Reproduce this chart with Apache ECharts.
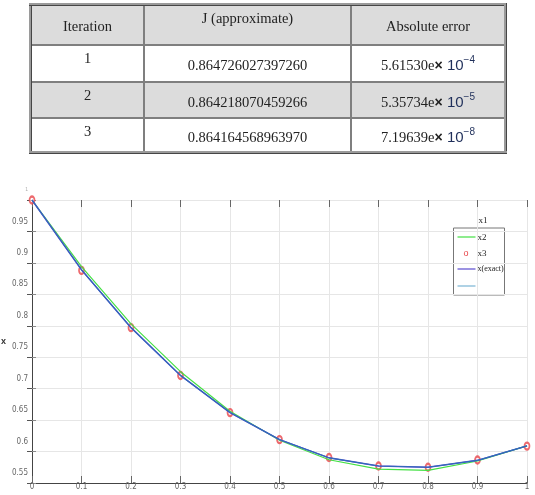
<!DOCTYPE html>
<html>
<head>
<meta charset="utf-8">
<script src="https://cdn.jsdelivr.net/npm/echarts@6/dist/echarts.min.js"></script>
<style>
  body { margin: 0; background: #fff; }
  #wrap { position: relative; width: 535px; height: 495px; overflow: hidden; }
  #chart { position: absolute; left: 0; top: 0; width: 535px; height: 495px; }
  #tbl {
    position: absolute; left: 29px; top: 3px; width: 478px; height: 148px;
    border-collapse: collapse; border: 3px ridge #9a9a9a;
    font-family: 'Liberation Serif', 'DejaVu Serif', serif; font-size: 14.5px; color: #222;
  }
  #tbl td { border: 2px solid #7f7f7f; text-align: center; padding: 0; }
  #tbl tr.grey td { background: #dcdcdc; }
  #tbl td.top { vertical-align: top; padding-top: 4px; }
  #tbl td.mid { vertical-align: middle; padding-top: 3px; }
  .pw { font-family: 'Liberation Sans', Arial, sans-serif; color: #1f2f5a; font-size: 15px; }
  .pw b { color: #222; font-size: 14px; }
  .pw sup { font-size: 10px; position: relative; top: -1px; }
</style>
</head>
<body>
<div id="wrap">
  <div id="chart"></div>
  <table id="tbl"></table>
</div>
<script>
// table
const headers = ['Iteration', 'J (approximate)', 'Absolute error']
const iterations = ['1', '2', '3']
const jApprox = ['0.864726027397260', '0.864218070459266', '0.864164568963970']
const errMantissa = ['5.61530', '5.35734', '7.19639']
const errExponent = ['−4', '−5', '−8']

// chart
const tValues = [0, 0.1, 0.2, 0.3, 0.4, 0.5, 0.6, 0.7, 0.8, 0.9, 1]
const x1 = [1.0, 0.894, 0.803, 0.727, 0.664, 0.618, 0.587, 0.572, 0.570, 0.585, 0.609]
const x2 = [1.0, 0.888, 0.797, 0.721, 0.662, 0.619, 0.5905, 0.577, 0.575, 0.5865, 0.6087]
const x3 = [1.0, 0.889, 0.797, 0.721, 0.662, 0.619, 0.590, 0.577, 0.575, 0.586, 0.609]
const xExact = [1.0, 0.889, 0.797, 0.721, 0.662, 0.619, 0.590, 0.577, 0.575, 0.586, 0.609]
const legendNames = ['x1', 'x2', 'x3', 'x(exact)']

const tbl = document.getElementById('tbl')
let html = '<tr class="grey" style="height:40px">'
html += '<td class="mid" style="width:111px">' + headers[0] + '</td>'
html += '<td class="top" style="width:205px">' + headers[1] + '</td>'
html += '<td class="mid">' + headers[2] + '</td></tr>'
const rowH = [37, 36, 35]
iterations.forEach((it, i) => {
  html += '<tr' + (i == 1 ? ' class="grey"' : '') + ' style="height:' + rowH[i] + 'px">'
  html += '<td class="top">' + it + '</td>'
  html += '<td class="mid" style="padding-top:5px">' + jApprox[i] + '</td>'
  html += '<td class="mid">' + errMantissa[i] + 'e<span class="pw"><b>×</b> 10<sup>' + errExponent[i] + '</sup></span></td></tr>'
})
tbl.innerHTML = html

const pairs = (arr) => tValues.map((t, i) => [t, arr[i]])
const lblFont = "'DejaVu Sans Condensed', 'Liberation Sans Narrow', sans-serif"

const chart = echarts.init(document.getElementById('chart'))
chart.setOption({
  animation: false,
  grid: { left: 32, right: 8, top: 200, bottom: 12, outerBoundsMode: 'none', containLabel: false },
  xAxis: [
    {
      type: 'value', min: 0, max: 1, interval: 0.1, position: 'bottom',
      name: 't', nameLocation: 'middle', nameGap: 6,
      nameTextStyle: { fontSize: 9, color: '#333', fontFamily: lblFont },
      axisLine: { show: true, lineStyle: { color: '#444', width: 1 } },
      axisTick: { show: true, inside: true, length: 7, lineStyle: { color: '#666' } },
      axisLabel: { margin: 0, fontSize: 8, color: '#666', fontFamily: lblFont },
      splitLine: { show: true, lineStyle: { color: '#e6e6e6' } }
    },
    {
      type: 'value', min: 0, max: 1, interval: 0.1, position: 'top',
      axisLine: { show: false },
      axisTick: { show: true, inside: true, length: 7, lineStyle: { color: '#666' } },
      axisLabel: { show: false },
      splitLine: { show: false }
    }
  ],
  yAxis: [
    {
      type: 'value', min: 0.55, max: 1, interval: 0.05, position: 'left',
      name: 'x', nameLocation: 'middle', nameGap: 24, nameRotate: 0,
      nameTextStyle: { fontSize: 9, fontWeight: 'bold', color: '#333' },
      axisLine: { show: true, lineStyle: { color: '#555', width: 1 } },
      axisTick: { show: true, inside: true, length: 4, lineStyle: { color: '#888' } },
      axisLabel: {
        margin: 4, fontSize: 8, color: '#666', fontFamily: lblFont,
        padding: [0, 0, 20, 0],
        formatter: (v) => (v >= 0.999 ? '{s|1}' : String(+v.toFixed(2))),
        rich: { s: { fontSize: 5, color: '#aaa' } }
      },
      splitLine: { show: true, lineStyle: { color: '#e6e6e6' } }
    },
    {
      type: 'value', min: 0.55, max: 1, interval: 0.05, position: 'right',
      axisLine: { show: true, lineStyle: { color: '#444', width: 1 } },
      axisTick: { show: true, inside: true, length: 5, lineStyle: { color: '#555' } },
      axisLabel: { show: false },
      splitLine: { show: false }
    }
  ],
  series: [
    {
      name: legendNames[0], type: 'line', data: pairs(x1), symbol: 'none',
      lineStyle: { color: '#44e044', width: 1.2 }
    },
    {
      name: legendNames[3], type: 'line', data: pairs(xExact), symbol: 'none',
      lineStyle: { color: '#5a4ccf', width: 1.5 }
    },
    {
      name: legendNames[2], type: 'line', data: pairs(x3), symbol: 'none',
      lineStyle: { color: '#2f6cb8', width: 1.1 }
    },
    {
      name: legendNames[1], type: 'scatter', data: pairs(x2),
      symbol: 'emptyCircle', symbolSize: [5, 7],
      itemStyle: { color: '#e8454a', borderColor: '#e8454a', borderWidth: 1 }
    }
  ],
  graphic: [
    {
      type: 'group', left: 453, top: 216,
      children: [
        { type: 'text', x: 25, y: 0, style: { text: legendNames[0], font: "9px 'Liberation Serif', serif", fill: '#222' } },
        { type: 'rect', shape: { x: 0, y: 12, width: 51, height: 67 }, style: { fill: '#fff', stroke: '#777', lineWidth: 1 } },
        { type: 'line', shape: { x1: 4, y1: 21, x2: 22, y2: 21 }, style: { stroke: '#44e044', lineWidth: 1.2 } },
        { type: 'text', x: 24, y: 17, style: { text: legendNames[1], font: "9px 'Liberation Serif', serif", fill: '#222' } },
        { type: 'text', x: 10, y: 33, style: { text: 'o', font: "9px 'Liberation Sans', sans-serif", fill: '#e8454a' } },
        { type: 'text', x: 24, y: 33, style: { text: legendNames[2], font: "9px 'Liberation Serif', serif", fill: '#222' } },
        { type: 'line', shape: { x1: 4, y1: 53, x2: 22, y2: 53 }, style: { stroke: '#5a4ccf', lineWidth: 1.2 } },
        { type: 'text', x: 24, y: 49, style: { text: legendNames[3], font: "8px 'Liberation Serif', serif", fill: '#222' } },
        { type: 'line', shape: { x1: 4, y1: 70, x2: 22, y2: 70 }, style: { stroke: '#7ab4d4', lineWidth: 1.2 } }
      ]
    }
  ]
})
</script>
</body>
</html>
